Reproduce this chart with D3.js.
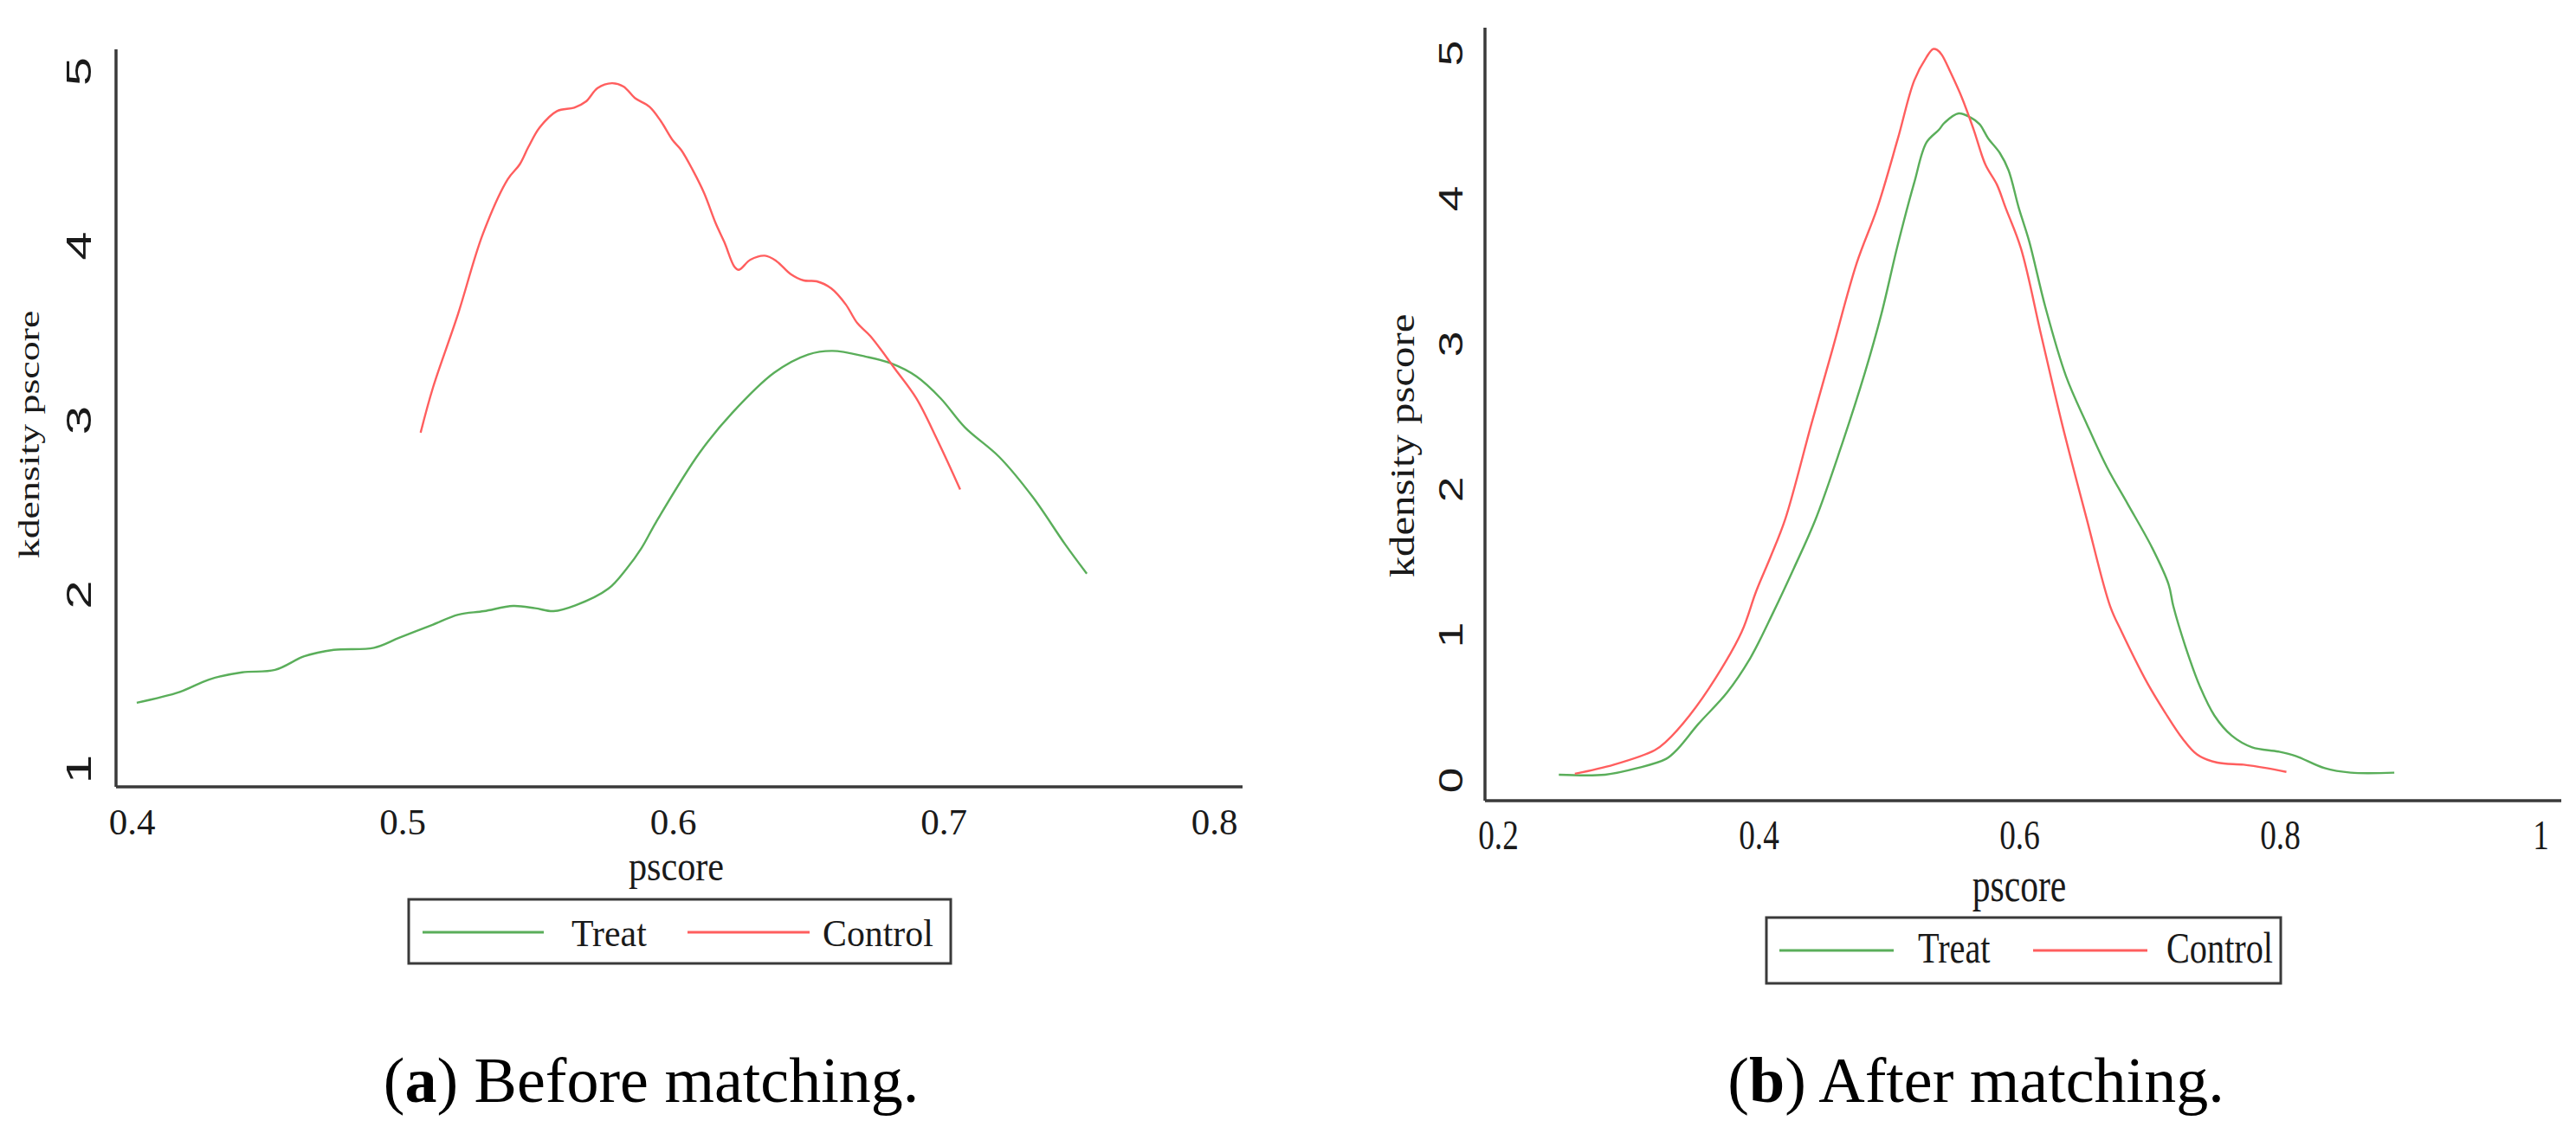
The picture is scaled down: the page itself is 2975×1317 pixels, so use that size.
<!DOCTYPE html>
<html>
<head>
<meta charset="utf-8">
<script src="https://cdn.jsdelivr.net/npm/d3@7"></script>
<style>
  body { margin: 0; background: #fff; }
  svg { display: block; }
</style>
</head>
<body>
<svg id="chart" width="2975" height="1317"></svg>
<script>
// tick values
const xTicksBefore = [0.4, 0.5, 0.6, 0.7, 0.8];
const yTicksBefore = [1, 2, 3, 4, 5];
const xTicksAfter = [0.2, 0.4, 0.6, 0.8, 1];
const yTicksAfter = [0, 1, 2, 3, 4, 5];

const seriesNames = ["Treat", "Control"];

// kernel density, before matching [pscore, density]
const treatBefore = [
	[0.4019, 1.378], [0.4178, 1.44], [0.4286, 1.511], [0.4408, 1.552], [0.453, 1.566],
	[0.4638, 1.644], [0.4747, 1.681], [0.4896, 1.693], [0.499, 1.751], [0.5112, 1.825],
	[0.5207, 1.883], [0.5302, 1.903], [0.541, 1.933], [0.5491, 1.92], [0.5559, 1.903],
	[0.564, 1.936], [0.5762, 2.032], [0.583, 2.148], [0.5884, 2.264], [0.5938, 2.413],
	[0.6098, 2.809], [0.622, 3.04], [0.6375, 3.27], [0.65, 3.374], [0.659, 3.395],
	[0.6714, 3.362], [0.6806, 3.324], [0.69, 3.249], [0.699, 3.123], [0.708, 2.956],
	[0.7206, 2.788], [0.733, 2.558], [0.745, 2.286], [0.753, 2.118],
];
const controlBefore = [
	[0.5068, 2.926], [0.5114, 3.186], [0.5206, 3.605], [0.5298, 4.065], [0.539, 4.379],
	[0.5434, 4.464], [0.5466, 4.563], [0.5508, 4.676], [0.5572, 4.77], [0.5636, 4.79],
	[0.5679, 4.825], [0.5722, 4.902], [0.5775, 4.93], [0.5818, 4.911], [0.586, 4.845],
	[0.5914, 4.795], [0.5956, 4.712], [0.5999, 4.604], [0.6031, 4.547], [0.6074, 4.431],
	[0.6116, 4.299], [0.6159, 4.125], [0.6191, 4.017], [0.6228, 3.877], [0.6244, 3.86],
	[0.6287, 3.918], [0.634, 3.941], [0.6383, 3.91], [0.6436, 3.835], [0.6484, 3.799],
	[0.6532, 3.794], [0.6586, 3.753], [0.6639, 3.662], [0.6682, 3.554], [0.673, 3.48],
	[0.6822, 3.29], [0.69, 3.123], [0.6975, 2.893], [0.7062, 2.6],
];

// kernel density, after matching
const treatAfter = [
	[0.2467, 0.036], [0.2823, 0.036], [0.3068, 0.081], [0.3291, 0.145], [0.338, 0.214],
	[0.3536, 0.383], [0.3758, 0.601], [0.3937, 0.839], [0.4115, 1.157], [0.427, 1.454],
	[0.4437, 1.792], [0.4627, 2.274], [0.4816, 2.801], [0.4942, 3.203], [0.5068, 3.68],
	[0.5194, 4.106], [0.5288, 4.383], [0.5383, 4.47], [0.5428, 4.52], [0.5535, 4.583],
	[0.5628, 4.554], [0.5695, 4.51], [0.5762, 4.411], [0.5851, 4.311], [0.5918, 4.192],
	[0.5996, 3.935], [0.6076, 3.705], [0.62, 3.253], [0.6359, 2.776], [0.6517, 2.45],
	[0.6674, 2.149], [0.6832, 1.898], [0.702, 1.596], [0.7146, 1.345], [0.7182, 1.196],
	[0.7275, 0.918], [0.7387, 0.641], [0.7498, 0.442], [0.7631, 0.304], [0.7787, 0.224],
	[0.7988, 0.195], [0.8121, 0.165], [0.8344, 0.081], [0.8544, 0.05], [0.8878, 0.05],
];
const controlAfter = [
	[0.259, 0.042], [0.289, 0.105], [0.3202, 0.204], [0.3291, 0.264], [0.3469, 0.442],
	[0.367, 0.7], [0.387, 1.018], [0.3981, 1.296], [0.4092, 1.534], [0.4204, 1.792],
	[0.4406, 2.45], [0.4564, 2.952], [0.4753, 3.554], [0.491, 3.931], [0.5068, 4.408],
	[0.5194, 4.809], [0.5288, 4.97], [0.5339, 5.026], [0.537, 5.02], [0.5406, 4.986],
	[0.5472, 4.867], [0.5561, 4.689], [0.5651, 4.47], [0.574, 4.232], [0.5829, 4.093],
	[0.5895, 3.935], [0.6013, 3.655], [0.617, 3.052], [0.6328, 2.45], [0.6517, 1.797],
	[0.6697, 1.196], [0.6786, 1.018], [0.6986, 0.661], [0.712, 0.462], [0.7253, 0.284],
	[0.7364, 0.175], [0.752, 0.119], [0.7721, 0.105], [0.7899, 0.081], [0.805, 0.055],
];

const colors = {
	treat: "#5aae5a",
	control: "#ff5e5e",
	axis: "#3a3a3a",
	text: "#1a1a1a",
};
const serif = "'Liberation Serif', 'Times New Roman', serif";
const sans = "'Liberation Sans', Arial, sans-serif";

const panels = [
	{
		x: d3.scaleLinear().domain([0.4, 0.8]).range([152, 1402]),
		y: d3.scaleLinear().domain([1, 5]).range([888, 82]),
		xTicks: xTicksBefore, yTicks: yTicksBefore,
		data: [treatBefore, controlBefore],
		frame: { left: 134, bottom: 909, top: 57, right: 1435 },
		xTick: { base: 964, size: 43, sx: 1 },
		yTick: { base: 105, size: 40, sx: 1.5 },
		yTitle: { x: 45, y: 502, size: 33, sx: 1.39 },
		xTitle: { x: 781, base: 1017, size: 48, sx: 0.88 },
		legend: { x0: 472, x1: 1098, y0: 1039, y1: 1113, ly: 1077, base: 1093,
			lines: [[488, 628], [794, 935]], texts: [660, 950], size: 45, sx: 0.93 },
		caption: { x: 752, base: 1273, letter: "a", text: " Before matching." },
	},
	{
		x: d3.scaleLinear().domain([0.2, 1]).range([1730, 2934]),
		y: d3.scaleLinear().domain([0, 5]).range([901, 61]),
		xTicks: xTicksAfter, yTicks: yTicksAfter,
		data: [treatAfter, controlAfter],
		frame: { left: 1715, bottom: 925, top: 32, right: 2958 },
		xTick: { base: 981, size: 49, sx: 0.76 },
		yTick: { base: 1689, size: 38, sx: 1.4 },
		yTitle: { x: 1633, y: 515, size: 41, sx: 1.19 },
		xTitle: { x: 2332, base: 1041, size: 54, sx: 0.77 },
		legend: { x0: 2040, x1: 2634, y0: 1060, y1: 1136, ly: 1098, base: 1112,
			lines: [[2055, 2187], [2348, 2480]], texts: [2215, 2502], size: 51, sx: 0.79 },
		caption: { x: 2282, base: 1273, letter: "b", text: " After matching." },
	},
];

const svg = d3.select("#chart");
svg.append("rect").attr("width", 2975).attr("height", 1317).attr("fill", "#fff");

panels.forEach(render);

function render(p) {
	const g = svg.append("g");
	const seriesColors = [colors.treat, colors.control];

	// frame lines (left + bottom only)
	g.append("line")
		.attr("x1", p.frame.left).attr("x2", p.frame.left)
		.attr("y1", p.frame.top).attr("y2", p.frame.bottom)
		.attr("stroke", colors.axis).attr("stroke-width", 3.5);
	g.append("line")
		.attr("x1", p.frame.left).attr("x2", p.frame.right)
		.attr("y1", p.frame.bottom).attr("y2", p.frame.bottom)
		.attr("stroke", colors.axis).attr("stroke-width", 3.5);

	// x axis labels
	const xAxis = g.append("g")
		.attr("transform", `translate(0, ${p.xTick.base})`)
		.call(d3.axisBottom(p.x).tickValues(p.xTicks).tickSize(0).tickPadding(0).tickFormat(d3.format("")));
	xAxis.select(".domain").remove();
	xAxis.selectAll("text")
		.attr("y", 0).attr("dy", 0)
		.attr("transform", `scale(${p.xTick.sx}, 1)`)
		.attr("fill", colors.text)
		.style("font-family", serif)
		.style("font-size", p.xTick.size + "px");

	// y axis labels, rotated
	const yAxis = g.append("g")
		.attr("transform", `translate(${p.yTick.base}, 0)`)
		.call(d3.axisLeft(p.y).tickValues(p.yTicks).tickSize(0).tickPadding(0).tickFormat(d3.format("")));
	yAxis.select(".domain").remove();
	yAxis.selectAll("text")
		.attr("x", 0).attr("dy", 0)
		.attr("text-anchor", "middle")
		.attr("transform", `rotate(-90) scale(${p.yTick.sx}, 1)`)
		.attr("fill", colors.text)
		.style("font-family", sans)
		.style("font-size", p.yTick.size + "px");

	// axis titles
	g.append("text")
		.attr("transform", `translate(${p.yTitle.x}, ${p.yTitle.y}) rotate(-90) scale(${p.yTitle.sx}, 1)`)
		.attr("text-anchor", "middle")
		.attr("fill", colors.text)
		.style("font-family", serif)
		.style("font-size", p.yTitle.size + "px")
		.text("kdensity pscore");
	g.append("text")
		.attr("transform", `translate(${p.xTitle.x}, ${p.xTitle.base}) scale(${p.xTitle.sx}, 1)`)
		.attr("text-anchor", "middle")
		.attr("fill", colors.text)
		.style("font-family", serif)
		.style("font-size", p.xTitle.size + "px")
		.text("pscore");

	// density curves
	const line = d3.line()
		.x((d) => p.x(d[0]))
		.y((d) => p.y(d[1]))
		.curve(d3.curveCatmullRom.alpha(0.5));
	g.append("g")
		.selectAll("path")
		.data(p.data)
		.enter()
		.append("path")
		.attr("d", line)
		.attr("fill", "none")
		.attr("stroke", (d, i) => seriesColors[i])
		.attr("stroke-width", 2.4)
		.attr("stroke-linejoin", "round");

	// legend
	const lg = p.legend;
	g.append("rect")
		.attr("x", lg.x0).attr("y", lg.y0)
		.attr("width", lg.x1 - lg.x0).attr("height", lg.y1 - lg.y0)
		.attr("fill", "#fff")
		.attr("stroke", colors.axis).attr("stroke-width", 3);
	seriesNames.forEach((name, i) => {
		g.append("line")
			.attr("x1", lg.lines[i][0]).attr("x2", lg.lines[i][1])
			.attr("y1", lg.ly).attr("y2", lg.ly)
			.attr("stroke", seriesColors[i]).attr("stroke-width", 3);
		g.append("text")
			.attr("transform", `translate(${lg.texts[i]}, ${lg.base}) scale(${lg.sx}, 1)`)
			.attr("fill", colors.text)
			.style("font-family", serif)
			.style("font-size", lg.size + "px")
			.text(name);
	});

	// caption
	const cap = g.append("text")
		.attr("x", p.caption.x).attr("y", p.caption.base)
		.attr("text-anchor", "middle")
		.attr("fill", "#000")
		.style("font-family", serif)
		.style("font-size", "74px");
	cap.append("tspan").text("(");
	cap.append("tspan").style("font-weight", "bold").text(p.caption.letter);
	cap.append("tspan").text(")" + p.caption.text);
}
</script>
</body>
</html>
